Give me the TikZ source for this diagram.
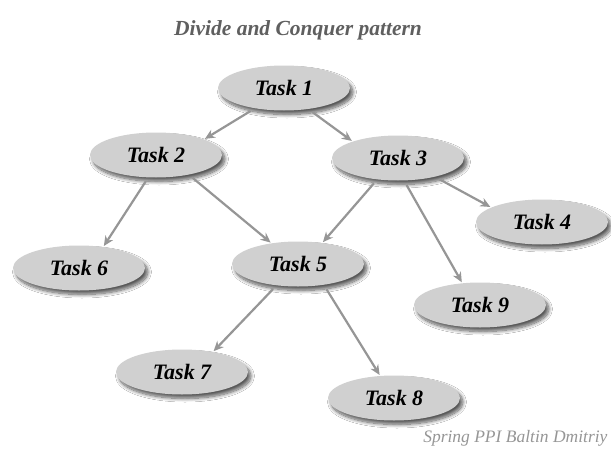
\documentclass[tikz,border=0pt]{standalone}
\usepackage{fontspec}
\setmainfont{Liberation Serif}
\usetikzlibrary{shapes.geometric,arrows.meta,shadows.blur}
\definecolor{taskfill}{RGB}{208,208,208}
\definecolor{linkgray}{RGB}{150,150,150}
\definecolor{titlegray}{RGB}{95,95,95}
\definecolor{footgray}{RGB}{150,150,150}
\begin{document}
\begin{tikzpicture}[x=1pt,y=-1pt,
  task/.style={ellipse, minimum width=132pt, minimum height=45pt, inner sep=0pt,
    fill=taskfill,
    blur shadow={shadow xshift=3pt, shadow yshift=-4pt, shadow blur steps=10, shadow blur radius=3.5pt, shadow opacity=65},
    font=\bfseries\itshape\fontsize{22}{22}\selectfont},
  link/.style={draw=linkgray, line width=2.2pt, -{Stealth[length=10pt,width=9pt]}, shorten <=5pt, shorten >=1pt}]
\fill[white] (0,0) rectangle (611,455);
\useasboundingbox (0,0) rectangle (611,455);
\node[font=\bfseries\itshape\fontsize{21.5}{21.5}\selectfont, text=titlegray] (title) at (298,30) {Divide and Conquer pattern};
\node[task] (t1) at (284,88) {Task 1};
\node[task] (t2) at (156,155) {Task 2};
\node[task] (t3) at (398,158) {Task 3};
\node[task] (t4) at (542,222) {Task 4};
\node[task] (t5) at (298,264) {Task 5};
\node[task] (t6) at (79,268) {Task 6};
\node[task] (t9) at (480,305) {Task 9};
\node[task] (t7) at (182,372) {Task 7};
\node[task] (t8) at (394,398) {Task 8};
\node[anchor=east, font=\itshape\fontsize{17.5}{17.5}\selectfont, text=footgray] (foot) at (611,438) {Spring PPI Baltin Dmitriy};
\draw[link] (t1.215) -- (t2.18);
\draw[link] (t1.319) -- (t3.160);
\draw[link] (t2.251) -- (t6.41);
\draw[link] (t2.329) -- (t5.142);
\draw[link] (t3.226) -- (t5.41);
\draw[link] (t3.333) -- (t4.164);
\draw[link] (t3.285) -- (t9.129);
\draw[link] (t5.225) -- (t7.33);
\draw[link] (t5.321) -- (t8.122);
\end{tikzpicture}
\end{document}
